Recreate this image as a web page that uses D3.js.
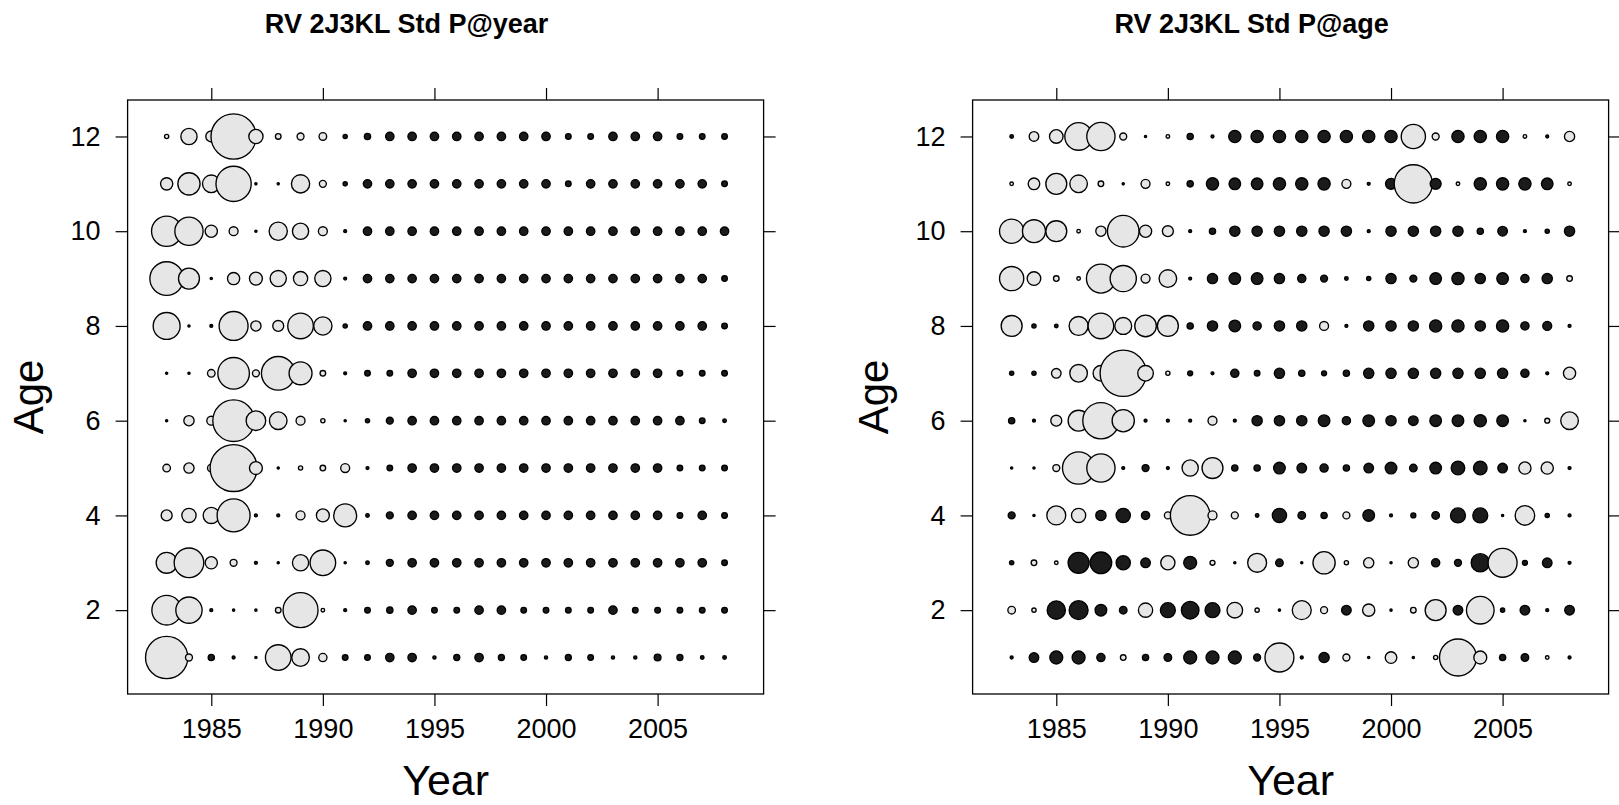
<!DOCTYPE html>
<html>
<head>
<meta charset="utf-8">
<script src="https://cdn.jsdelivr.net/npm/d3@7"></script>
<style>
  html, body { margin: 0; padding: 0; background: #fff; }
  svg { display: block; }
  text { font-family: "Liberation Sans", Arial, Helvetica, sans-serif; fill: #000; }
</style>
</head>
<body>
<svg id="chart" width="1619" height="805"></svg>
<script>
// Survey years and ages
const years = d3.range(1983, 2009);
const ages = d3.range(1, 13);

// Axis tick labels
const yearTicks = [1985, 1990, 1995, 2000, 2005];
const ageTicks = [2, 4, 6, 8, 10, 12];

// Standardized proportions at year, one row per age (1983..2008)
const pYear1  = [5.33,0.92,-0.83,-0.42,-0.33,3.25,2.25,1.08,-0.75,-0.75,-1.1,-1.1,-0.45,-0.8,-1.1,-0.8,-0.75,-0.45,-0.8,-0.75,-0.45,-0.45,-0.9,-0.8,-0.5,-0.5];
const pYear2  = [3.75,3.33,-0.42,-0.33,-0.33,0.75,4.42,0.5,-0.42,-0.75,-0.83,-1.1,-0.75,-0.75,-1.1,-1.1,-0.75,-0.75,-0.75,-0.75,-1.1,-0.75,-0.75,-0.75,-0.75,-0.75];
const pYear3  = [2.67,3.75,1.58,0.92,-0.42,-0.33,2.08,3.25,-0.33,-0.5,-0.92,-1.1,-1.1,-1.1,-1.1,-1.1,-1.1,-1.1,-1.1,-1.1,-1.1,-1.1,-1.1,-1.1,-1.1,-0.75];
const pYear4  = [1.42,1.83,2.08,4.17,-0.42,-0.42,1.17,1.67,2.92,-0.5,-0.92,-1.1,-1.1,-1.1,-1.1,-1.1,-1.1,-1.1,-1.1,-1.1,-1.1,-1.1,-1.1,-0.75,-1.1,-0.75];
const pYear5  = [1.0,1.33,1.0,5.92,1.67,-0.33,0.58,0.75,1.17,-0.42,-0.75,-1.1,-1.1,-1.1,-1.1,-1.1,-1.1,-1.1,-1.1,-1.1,-1.1,-1.1,-1.1,-0.75,-0.75,-0.75];
const pYear6  = [-0.33,1.33,1.17,5.25,2.5,2.25,1.17,0.58,-0.33,-0.58,-0.92,-1.1,-1.1,-1.1,-1.1,-1.1,-1.1,-1.1,-1.1,-1.1,-1.1,-1.1,-1.1,-1.1,-0.75,-0.5];
const pYear7  = [-0.33,-0.33,1.0,4.0,0.92,4.25,2.92,0.75,-0.42,-0.75,-0.75,-1.1,-1.1,-1.1,-1.1,-1.1,-1.1,-1.1,-1.1,-1.1,-1.1,-1.1,-1.1,-0.75,-0.75,-0.75];
const pYear8  = [3.42,-0.33,-0.42,3.67,1.33,1.42,3.25,2.33,-0.58,-1.1,-1.1,-1.1,-1.1,-1.1,-1.1,-1.1,-1.1,-1.1,-1.1,-1.1,-1.1,-1.1,-1.1,-1.1,-1.1,-0.75];
const pYear9  = [4.25,2.67,-0.33,1.58,1.67,2.08,1.83,2.08,-0.42,-1.1,-1.1,-1.1,-1.1,-1.1,-1.1,-1.1,-1.1,-1.1,-1.1,-1.1,-1.1,-1.1,-1.1,-1.1,-1.1,-0.75];
const pYear10 = [3.83,3.58,1.58,1.17,-0.33,2.33,2.08,1.17,-0.42,-1.1,-1.1,-1.1,-1.1,-1.1,-1.1,-1.1,-1.1,-1.1,-1.1,-1.1,-1.1,-1.1,-1.1,-1.1,-1.1,-1.1];
const pYear11 = [1.58,2.83,2.25,4.46,-0.33,-0.33,2.33,0.92,-0.58,-1.1,-1.1,-1.1,-1.1,-1.1,-1.1,-1.1,-1.1,-1.1,-0.75,-1.1,-1.1,-1.1,-1.1,-1.1,-1.1,-0.75];
const pYear12 = [0.58,2.08,1.42,5.7,1.83,0.75,0.92,1.0,-0.58,-0.83,-1.1,-1.1,-1.1,-1.1,-1.1,-1.1,-1.1,-1.1,-0.75,-0.75,-1.1,-1.1,-1.1,-0.75,-0.75,-0.75];

// Standardized proportions at age, one row per age (1983..2008)
const pAge1  = [-0.42,-1.25,-1.67,-1.67,-1.08,0.75,-0.83,-1.0,-1.67,-1.67,-1.67,-0.92,3.67,-0.42,-1.33,0.92,-0.33,1.5,-0.33,0.58,4.67,1.67,-0.83,-1.0,0.5,-0.42];
const pAge2  = [1.0,0.58,-2.33,-2.42,-1.5,-1.0,1.83,-1.92,-2.25,-1.92,2.0,0.58,-0.33,2.42,0.92,-1.25,1.58,-0.33,0.75,2.67,-1.25,3.5,-0.58,-1.25,-0.42,-1.25];
const pAge3  = [-0.58,0.75,0.5,-2.67,-2.75,-1.83,-1.25,1.83,-1.67,0.67,-0.33,2.42,-1.0,-0.33,2.83,0.58,1.33,-0.33,1.33,-1.08,-0.92,-2.33,3.67,-0.67,-1.25,-0.42];
const pAge4  = [-0.92,-0.33,2.42,1.83,-1.33,-1.83,-1.08,0.92,5.0,1.17,0.92,-0.5,-1.83,-1.0,-0.83,0.92,-1.5,-0.42,-0.67,-1.0,-1.92,-1.92,-0.33,2.5,-0.58,-0.42];
const pAge5  = [-0.33,-0.33,0.92,4.08,3.58,-0.42,-0.92,-0.42,2.08,2.67,-0.83,-0.83,-1.5,-1.25,-1.08,-0.83,-1.25,-1.5,-1.0,-1.5,-1.75,-1.75,-1.25,1.58,1.58,-0.42];
const pAge6  = [-0.83,-0.42,1.42,2.67,4.58,2.83,-0.42,-0.42,-0.42,1.17,-0.42,-1.33,-1.33,-1.33,-1.5,-1.08,-1.5,-1.33,-1.25,-1.5,-1.5,-1.58,-1.5,-0.33,0.67,2.25];
const pAge7  = [-0.58,-0.58,1.25,2.25,2.0,5.83,2.0,0.58,-0.67,-0.42,-1.08,-0.75,-1.33,-0.83,-0.67,-0.83,-1.33,-1.33,-1.33,-1.33,-1.33,-1.33,-1.33,-1.08,-0.42,1.58];
const pAge8  = [2.67,-0.58,-0.5,2.42,3.25,2.17,2.75,2.67,-0.83,-1.33,-1.5,-1.08,-1.33,-1.33,1.17,-0.42,-1.33,-1.33,-1.33,-1.58,-1.58,-1.33,-1.58,-1.08,-1.17,-0.42];
const pAge9  = [3.08,1.75,0.75,0.5,3.67,3.33,1.17,2.25,-0.42,-1.33,-1.5,-1.5,-1.33,-1.08,-0.92,-0.5,-0.58,-1.33,-0.92,-1.5,-1.58,-1.33,-1.5,-1.08,-1.33,0.75];
const pAge10 = [3.08,2.92,2.67,0.5,1.33,4.0,1.58,1.42,-0.42,-0.83,-1.33,-1.33,-1.33,-1.33,-1.33,-1.33,-0.42,-1.33,-1.33,-1.33,-1.33,-0.83,-1.25,-0.42,-0.58,-1.33];
const pAge11 = [0.5,1.5,2.67,2.25,0.75,-0.33,1.17,0.5,-0.83,-1.58,-1.5,-1.5,-1.58,-1.58,-1.58,1.17,-0.42,-1.42,4.83,-1.42,0.5,-1.58,-1.58,-1.58,-1.5,0.5];
const pAge12 = [-0.5,1.25,1.75,3.5,3.58,0.92,-0.33,0.5,-0.83,-0.42,-1.58,-1.58,-1.58,-1.58,-1.58,-1.58,-1.58,-1.58,3.08,0.92,-1.58,-1.58,-1.58,0.5,-0.42,1.33];

const panels = [
  { title: "RV 2J3KL Std P@year",
    rows: [pYear1,pYear2,pYear3,pYear4,pYear5,pYear6,pYear7,pYear8,pYear9,pYear10,pYear11,pYear12],
    left: 127.6 },
  { title: "RV 2J3KL Std P@age",
    rows: [pAge1,pAge2,pAge3,pAge4,pAge5,pAge6,pAge7,pAge8,pAge9,pAge10,pAge11,pAge12],
    left: 972.6 }
];

const svg = d3.select("#chart");
const W = 636, H = 594, plotTop = 100;

// radius grows linearly with the magnitude of the residual
const rScale = d3.scaleLinear().domain([0, 1]).range([0, 4]);

panels.forEach(p => {
  const g = svg.append("g").attr("transform", `translate(${p.left},${plotTop})`);
  const x = d3.scaleLinear().domain([1981.25, 2009.75]).range([0, W]);
  const y = d3.scaleLinear().domain([0.23, 12.77]).range([H, 0]);

  // bubbles, drawn age by age and year by year
  const cells = [];
  p.rows.forEach((row, i) => row.forEach((v, j) => cells.push({ age: ages[i], year: years[j], v })));
  g.selectAll("circle.cell").data(cells).join("circle")
    .attr("class", "cell")
    .attr("cx", d => x(d.year))
    .attr("cy", d => y(d.age))
    .attr("r", d => Math.max(1.0, rScale(Math.abs(d.v)) - 0.2))
    .attr("fill", d => d.v >= 0 ? "#e6e6e6" : "#1b1b1b")
    .attr("stroke", "#000")
    .attr("stroke-width", 1.35);

  // axes: labelled bottom and left, bare ticks top and right
  const styleAxis = sel => {
    sel.select(".domain").remove();
    sel.selectAll(".tick line").attr("stroke", "#000").attr("stroke-width", 1.2);
    sel.selectAll(".tick text").style("font-size", "27px").attr("fill", "#000");
  };
  g.append("g").attr("transform", `translate(0,${H})`)
    .call(d3.axisBottom(x).tickValues(yearTicks).tickFormat(d3.format("d")).tickSize(12).tickPadding(13))
    .call(styleAxis);
  g.append("g")
    .call(d3.axisTop(x).tickValues(yearTicks).tickFormat("").tickSize(12))
    .call(styleAxis);
  g.append("g")
    .call(d3.axisLeft(y).tickValues(ageTicks).tickFormat(d3.format("d")).tickSize(12).tickPadding(15))
    .call(styleAxis);
  g.append("g").attr("transform", `translate(${W},0)`)
    .call(d3.axisRight(y).tickValues(ageTicks).tickFormat("").tickSize(12))
    .call(styleAxis);
  g.selectAll(".tick text").attr("font-family", null);

  // panel frame
  g.append("rect").attr("x", 0).attr("y", 0).attr("width", W).attr("height", H)
    .attr("fill", "none").attr("stroke", "#000").attr("stroke-width", 1.3);

  // axis titles
  g.append("text").attr("x", W / 2).attr("y", 695)
    .attr("text-anchor", "middle").style("font-size", "43px").text("Year");
  g.append("text")
    .attr("transform", `translate(${-127.6 + 43},${H / 2}) rotate(-90)`)
    .attr("text-anchor", "middle").style("font-size", "42px").text("Age");

  // panel title
  g.append("text").attr("x", W / 2 - 39).attr("y", -67)
    .attr("text-anchor", "middle").style("font-size", "27px").style("font-weight", "bold")
    .text(p.title);
});
</script>
</body>
</html>
